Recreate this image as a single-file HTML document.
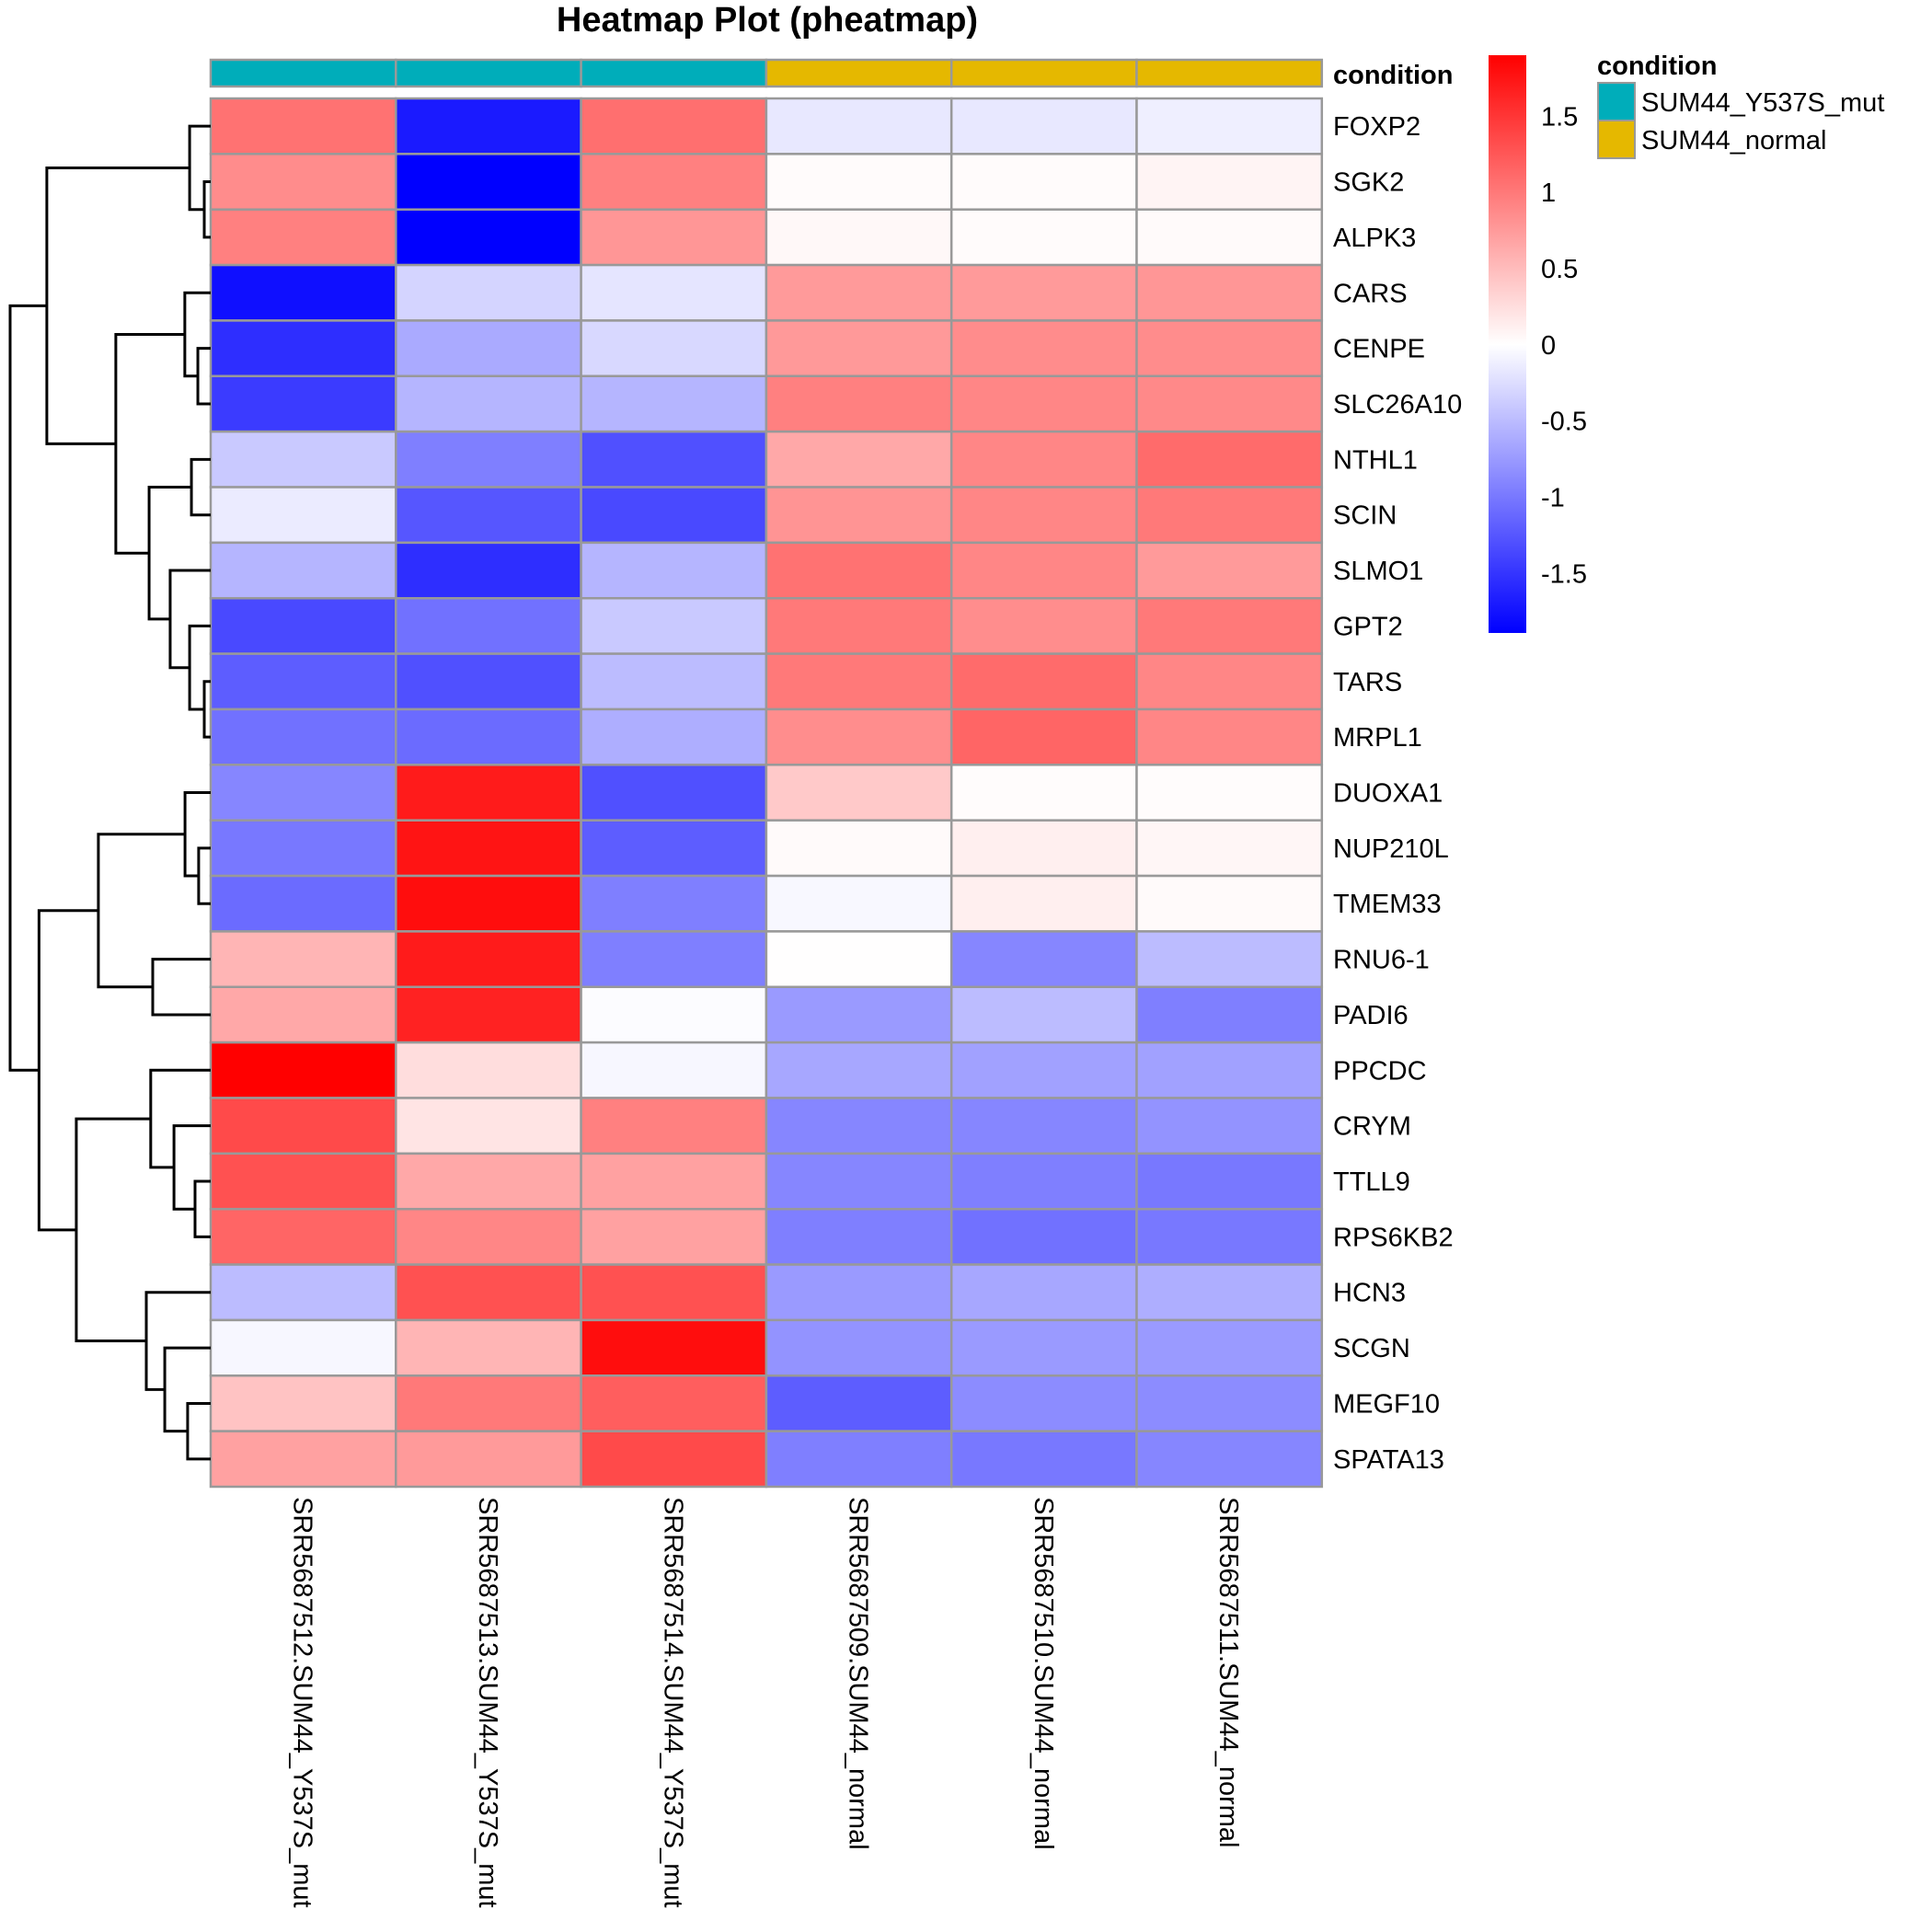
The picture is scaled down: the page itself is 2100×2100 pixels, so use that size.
<!DOCTYPE html>
<html><head><meta charset="utf-8"><style>
html,body{margin:0;padding:0;background:#fff;}
svg{display:block;font-family:"Liberation Sans",sans-serif;}
</style></head><body>
<svg id="chart" width="2100" height="2100" viewBox="0 0 2100 2100" xmlns="http://www.w3.org/2000/svg">
<defs>
<linearGradient id="grad" x1="0" y1="0" x2="0" y2="1">
<stop offset="0" stop-color="#FF0000"/><stop offset="0.501" stop-color="#FFFFFF"/><stop offset="1" stop-color="#0000FF"/>
</linearGradient>
</defs>
<text x="834" y="34" text-anchor="middle" font-size="38" font-weight="bold">Heatmap Plot (pheatmap)</text>
<g id="cells"></g>
<g id="dendro" stroke="#000" stroke-width="3" fill="none"></g>
<g id="labels"></g>
<text x="1449" y="91" font-size="29" font-weight="bold">condition</text>
<rect x="1618" y="60" width="41" height="628" fill="url(#grad)"/>
<g id="scale"></g>
<text x="1736" y="81" font-size="29" font-weight="bold">condition</text>
<rect x="1737" y="90" width="40" height="41" fill="#00ADBA" stroke="#999" stroke-width="2"/>
<rect x="1737" y="131" width="40" height="41" fill="#E5B800" stroke="#999" stroke-width="2"/>
<text x="1784" y="121" font-size="29">SUM44_Y537S_mut</text>
<text x="1784" y="162" font-size="29">SUM44_normal</text>
</svg>
<script>
const genes = ["FOXP2","SGK2","ALPK3","CARS","CENPE","SLC26A10","NTHL1","SCIN","SLMO1","GPT2","TARS","MRPL1","DUOXA1","NUP210L","TMEM33","RNU6-1","PADI6","PPCDC","CRYM","TTLL9","RPS6KB2","HCN3","SCGN","MEGF10","SPATA13"];
const samples = ["SRR5687512.SUM44_Y537S_mut","SRR5687513.SUM44_Y537S_mut","SRR5687514.SUM44_Y537S_mut","SRR5687509.SUM44_normal","SRR5687510.SUM44_normal","SRR5687511.SUM44_normal"];
const conditions = ["mut","mut","mut","normal","normal","normal"];
const values = [
[1.05,-1.7,1.07,-0.17,-0.17,-0.12],
[0.86,-1.89,0.95,0.03,0.03,0.08],
[0.95,-1.89,0.78,0.05,0.03,0.04],
[-1.78,-0.32,-0.19,0.75,0.75,0.78],
[-1.55,-0.63,-0.29,0.76,0.86,0.86],
[-1.45,-0.55,-0.55,0.95,0.9,0.88],
[-0.4,-0.95,-1.3,0.65,0.9,1.1],
[-0.15,-1.25,-1.35,0.8,0.9,1.0],
[-0.55,-1.55,-0.55,1.05,0.9,0.75],
[-1.35,-1.05,-0.4,1.0,0.85,1.0],
[-1.2,-1.3,-0.5,1.0,1.1,0.9],
[-1.05,-1.1,-0.6,0.85,1.15,0.9],
[-0.9,1.7,-1.3,0.4,0.02,0.02],
[-1.0,1.75,-1.2,0.04,0.12,0.07],
[-1.1,1.8,-0.95,-0.05,0.12,0.04],
[0.55,1.7,-0.95,0.01,-0.9,-0.5],
[0.65,1.65,-0.02,-0.75,-0.5,-0.95],
[1.9,0.25,-0.06,-0.65,-0.7,-0.7],
[1.35,0.2,0.95,-0.9,-0.9,-0.8],
[1.3,0.65,0.7,-0.9,-0.95,-1.0],
[1.15,0.9,0.7,-0.95,-1.05,-1.0],
[-0.5,1.3,1.3,-0.75,-0.65,-0.6],
[-0.06,0.55,1.8,-0.8,-0.75,-0.75],
[0.45,1.0,1.2,-1.2,-0.85,-0.85],
[0.7,0.75,1.35,-0.95,-1.0,-0.9]
];
const scaleTicks = [1.5,1,0.5,0,-0.5,-1,-1.5];
// dendrogram merges: [left, right, height]; leaves are indices, merged nodes "n#"
const merges = [
[1,2,0.32],[0,"n0",1.05],
[4,5,0.64],[3,"n2",1.29],
[6,7,0.96],[10,11,0.32],[9,"n5",1.05],[8,"n6",2.02],["n4","n7",3.07],["n3","n8",4.73],["n1","n9",8.17],
[13,14,0.6],[12,"n11",1.28],[15,16,2.89],["n12","n13",5.6],
[19,20,0.78],[18,"n15",1.83],[17,"n16",2.99],[23,24,1.15],[22,"n18",2.29],[21,"n19",3.21],["n17","n20",6.7],["n14","n21",8.56],
["n10","n22",10.0]
];
const colors = {mut:"#00ADBA", normal:"#E5B800"};

const X0=229, Y0=107, CW=201.3, RH=60.36, VMIN=-1.89, VMAX=1.9;
const ST=60, SB=688;
const xCol = i => X0 + i*CW;
const yRow = i => Y0 + i*RH;
const xDen = h => 229 - h/10*218;
const yScale = v => ST + (VMAX - v)/(VMAX - VMIN)*(SB-ST);
function color(v){
  let r,g,b;
  if(v>=0){const t=Math.min(1,v/VMAX);r=255;g=b=Math.round(255*(1-t));}
  else{const t=Math.min(1,v/VMIN);b=255;r=g=Math.round(255*(1-t));}
  return `rgb(${r},${g},${b})`;
}
const NS="http://www.w3.org/2000/svg";
function mk(tag,attrs,parent){const e=document.createElementNS(NS,tag);for(const k in attrs)e.setAttribute(k,attrs[k]);parent.appendChild(e);return e;}
const cells=document.getElementById('cells');
conditions.forEach((c,j)=>{
  const r=mk('rect',{x:xCol(j),y:65,width:CW,height:29,fill:colors[c],stroke:'#999','stroke-width':2.5},cells);
  
  
});
values.forEach((row,i)=>row.forEach((v,j)=>{
  const r=mk('rect',{x:xCol(j),y:yRow(i),width:CW,height:RH,fill:color(v),stroke:'#999','stroke-width':2.5},cells);
  
  
}));
const labels=document.getElementById('labels');
genes.forEach((g,i)=>{
  const t=mk('text',{x:1449,y:yRow(i)+RH/2+10,'font-size':29},labels);
  t.textContent=g;
  
  
});
samples.forEach((s,j)=>{
  const cx=xCol(j)+CW/2-10;
  const t=mk('text',{x:cx,y:1627,'font-size':29,transform:`rotate(90 ${cx} 1627)`},labels);
  t.textContent=s;
  
  
});
const sc=document.getElementById('scale');
scaleTicks.forEach(v=>{
  const t=mk('text',{x:1675,y:yScale(v)+10,'font-size':29},sc);
  t.textContent=String(v);
  
  
});
const den=document.getElementById('dendro');
const nodes=[];
function pos(n){ if(typeof n==='number') return {y:yRow(n)+RH/2,h:0}; return nodes[+n.slice(1)]; }
merges.forEach(m=>{
  const a=pos(m[0]),b=pos(m[1]),h=m[2];
  const x=xDen(h);
  const p=mk('path',{d:`M${xDen(a.h)},${a.y}H${x}V${b.y}H${xDen(b.h)}`},den);
  
  
  nodes.push({y:(a.y+b.y)/2,h:h});
});
</script>
</body></html>
